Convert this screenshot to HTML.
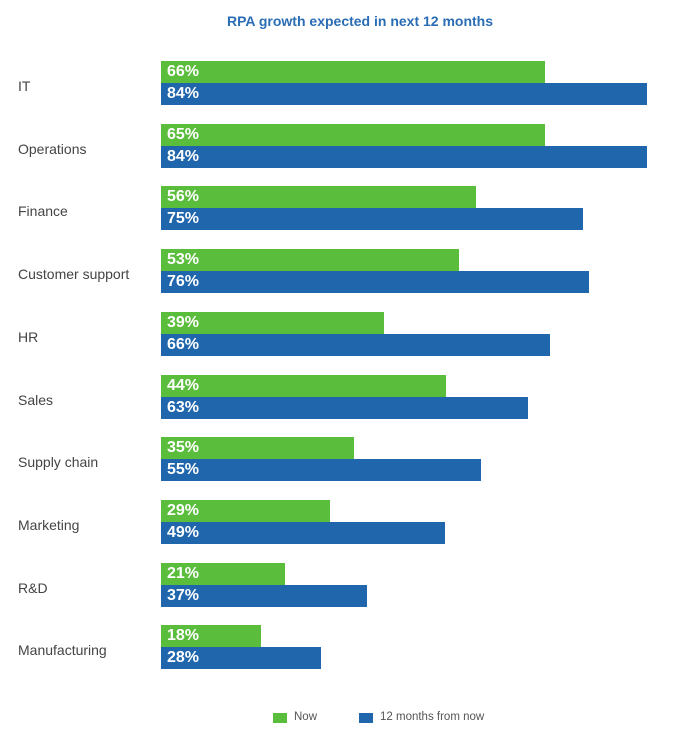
<!DOCTYPE html>
<html><head><meta charset="utf-8"><style>
body{margin:0;width:673px;height:741px;background:#fff;font-family:"Liberation Sans",sans-serif;position:relative;overflow:hidden}
.t{position:absolute;left:0;width:720px;text-align:center;top:13px;font-size:14px;font-weight:bold;color:#2a6db5}
.l{position:absolute;left:18px;font-size:14px;color:#444}
.b{position:absolute;left:161px;height:22px;color:#fff;font-weight:bold;font-size:16px;line-height:22px;padding-left:6px;box-sizing:border-box}
.g{background:#5bbd3c}.u{background:#1f66ac}
.lg{position:absolute;top:713px;width:14px;height:10px}
.lt{position:absolute;top:711px;font-size:11.5px;color:#555}
</style></head><body>
<div class="t">RPA growth expected in next 12 months</div>
<script>
const d=[["IT",545,647,66,84],["Operations",545,647,65,84],["Finance",476,583,56,75],["Customer support",459,589,53,76],["HR",384,550,39,66],["Sales",446,528,44,63],["Supply chain",354,481,35,55],["Marketing",330,445,29,49],["R&amp;D",285,367,21,37],["Manufacturing",261,321,18,28]];
let h="";d.forEach((r,i)=>{const y=Math.round(61+i*62.7);
h+=`<div class="l" style="top:${y+17}px">${r[0]}</div><div class="b g" style="top:${y}px;width:${r[1]-161}px">${r[3]}%</div><div class="b u" style="top:${y+22}px;width:${r[2]-161}px">${r[4]}%</div>`;});
document.write(h);
</script>
<div class="lg" style="left:273px;background:#5bbd3c"></div><div class="lt" style="left:294px">Now</div>
<div class="lg" style="left:359px;background:#1f66ac"></div><div class="lt" style="left:380px">12 months from now</div>
</body></html>
